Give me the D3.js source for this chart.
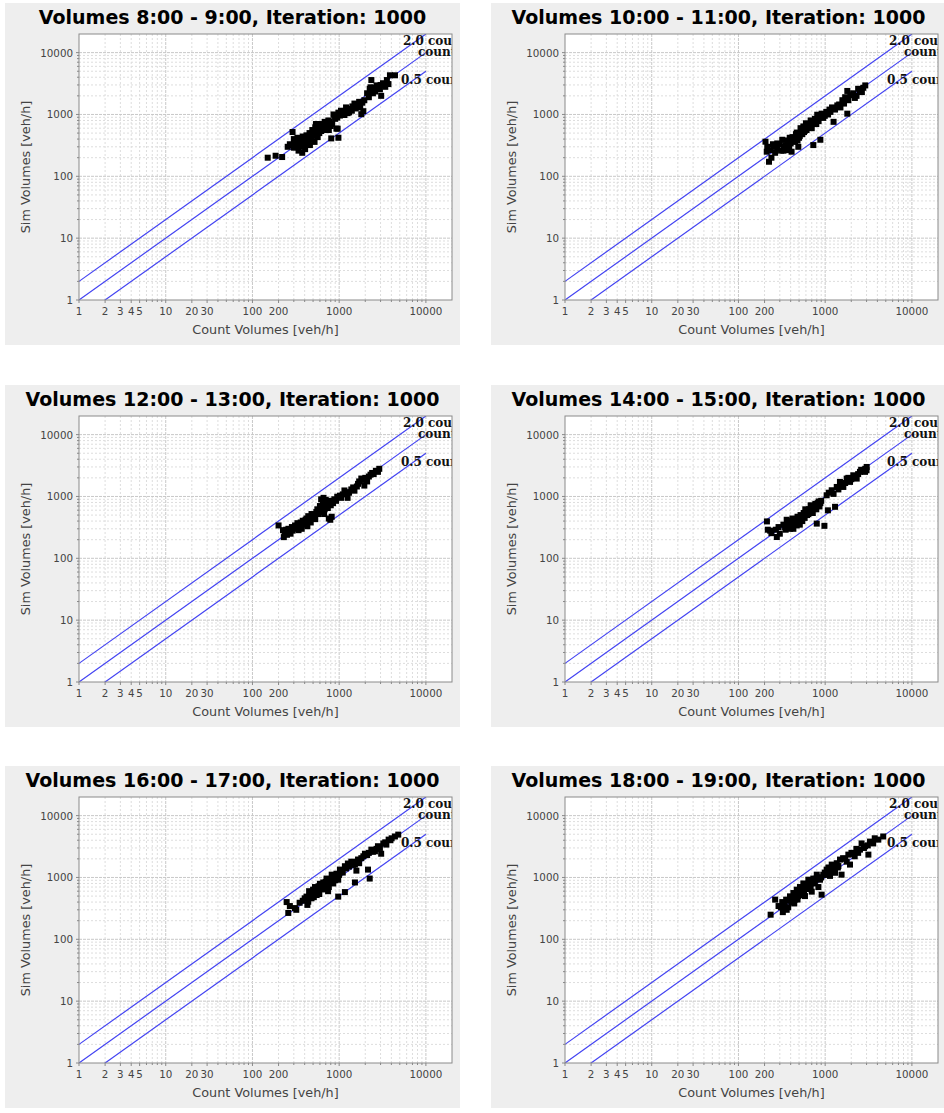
<!DOCTYPE html>
<html>
<head>
<meta charset="utf-8">
<script src="https://cdn.jsdelivr.net/npm/d3@7"></script>
<style>
  body { margin: 0; background: #fff; }
  svg { display: block; }
</style>
</head>
<body>
<svg id="chart" width="944" height="1113"></svg>
<script>
// one title per panel, read left-to-right, top-to-bottom
const titles = [
  "Volumes 8:00 - 9:00, Iteration: 1000",
  "Volumes 10:00 - 11:00, Iteration: 1000",
  "Volumes 12:00 - 13:00, Iteration: 1000",
  "Volumes 14:00 - 15:00, Iteration: 1000",
  "Volumes 16:00 - 17:00, Iteration: 1000",
  "Volumes 18:00 - 19:00, Iteration: 1000"
];

// [count volume, sim volume] in veh/h
const volumes0809 = [
  [150,200],[185,215],[220,205],[290,520],[300,400],[255,300],[270,330],[285,320],[300,290],[310,350],
  [320,360],[335,300],[340,260],[350,390],[360,330],[370,385],[375,240],[385,300],[395,420],[405,275],
  [410,350],[420,460],[430,380],[440,330],[455,500],[460,320],[470,460],[480,400],[490,560],[500,535],
  [510,450],[520,360],[530,620],[540,700],[550,520],[565,430],[580,600],[600,650],[610,630],[620,540],
  [640,700],[660,580],[680,760],[700,670],[720,640],[740,720],[760,560],[780,760],[800,650],[810,410],
  [830,700],[860,1000],[900,850],[930,590],[960,590],[980,420],[950,890],[980,1070],[1020,960],[1050,1150],
  [1100,1120],[1150,980],[1200,1300],[1250,1230],[1300,1080],[1350,1200],[1420,1350],[1500,1500],[1550,1250],[1600,1400],
  [1700,1600],[1750,1300],[1800,1010],[1850,1550],[1900,1130],[1950,1700],[2100,2200],[2200,1900],[2250,2600],[2300,2750],
  [2350,3600],[2450,2200],[2600,2350],[2700,2950],[2800,2600],[2950,2550],[3050,2000],[3200,3200],[3400,2800],[3550,3600],
  [3700,3100],[3850,4300],[4400,4300],[330,420],[380,440],[450,400],[560,700],[590,500],[700,560],[750,800],
  [880,950],[1250,1050],[1400,1150],[2500,2700],[3000,3000]
];
const volumes1011 = [
  [205,363],[212,250],[225,172],[215,300],[235,265],[240,200],[250,330],[255,300],[265,240],[280,280],
  [300,330],[310,260],[320,390],[335,300],[350,320],[360,265],[370,380],[385,300],[400,340],[410,250],
  [420,430],[435,380],[450,360],[460,480],[470,510],[490,300],[500,420],[510,450],[530,560],[545,480],
  [560,640],[580,540],[600,720],[620,620],[650,700],[680,800],[700,600],[730,760],[730,320],[760,850],
  [790,700],[810,990],[850,900],[880,390],[910,1030],[950,880],[990,950],[1030,1100],[1080,1000],[1120,1200],
  [1200,1300],[1250,760],[1300,1200],[1380,1400],[1450,1450],[1500,1300],[1580,1700],[1650,1500],[1700,1900],[1800,1030],
  [1800,2400],[1850,1700],[1950,2050],[2100,2200],[2200,1850],[2300,2000],[2400,2600],[2500,2350],[2650,2300],[2750,2700],
  [2900,2950],[380,350],[440,420],[520,600],[640,680],[700,780],[760,700],[840,780],[1150,1100],[1600,1600],
  [280,340],[330,260],[390,420],[480,380],[570,520],[610,560]
];
const volumes1213 = [
  [200,340],[225,285],[230,220],[235,260],[245,290],[250,240],[255,270],[285,320],[305,310],[330,370],
  [340,285],[380,405],[400,350],[420,440],[450,390],[500,470],[545,560],[590,600],[640,660],[670,520],
  [700,710],[760,440],[790,420],[820,470],[950,990],[1020,1030],[1100,1080],[1200,1170],[1250,950],[1380,1300],
  [1500,1240],[1650,1600],[1800,1950],[1950,1500],[2100,1750],[2200,2100],[2400,2400],[2650,2600],[2900,2800],[260,300],
  [275,250],[290,280],[310,340],[320,300],[350,330],[360,380],[370,300],[390,360],[410,420],[430,330],
  [440,480],[460,430],[470,380],[480,520],[520,500],[530,430],[560,620],[570,520],[600,700],[620,560],
  [650,750],[680,620],[720,800],[740,650],[780,850],[800,720],[850,780],[880,900],[920,850],[1050,950],
  [1150,1250],[1300,1150],[1450,1400],[1600,1450],[1700,1750],[1900,1850],[2000,2000],[2300,2250],[2500,2300],[2800,2500],
  [620,900],[660,950],[700,880]
];
const volumes1415 = [
  [213,395],[218,290],[232,280],[240,255],[277,221],[270,290],[290,320],[300,250],[345,320],[360,420],
  [375,370],[395,300],[420,440],[440,350],[460,385],[490,455],[520,500],[545,400],[565,540],[600,590],
  [620,500],[650,620],[700,680],[720,540],[760,710],[790,620],[820,780],[860,690],[800,364],[980,335],
  [1040,1045],[1075,597],[1190,1260],[1300,680],[1360,1425],[1480,1720],[1620,1425],[1770,1945],[1935,1720],[2110,2200],
  [2310,1945],[2520,2500],[2750,2650],[2880,2500],[3010,3000],[330,350],[350,290],[380,330],[400,400],[410,360],
  [430,300],[450,420],[470,340],[480,470],[500,400],[510,350],[530,450],[550,480],[580,450],[590,620],
  [610,560],[640,520],[670,600],[680,720],[700,600],[740,660],[770,760],[800,700],[840,830],[880,780],
  [900,850],[1100,1150],[1250,1100],[1420,1300],[1550,1550],[1700,1650],[1850,2000],[2000,1900],[2200,2050],[2400,2300],
  [2600,2700],[2900,2800],[3000,2650]
];
const volumes1617 = [
  [248,400],[270,345],[259,267],[309,320],[320,300],[350,390],[440,405],[420,490],[460,540],[500,635],
  [480,460],[526,700],[570,600],[600,790],[625,660],[655,830],[686,720],[715,960],[745,600],[780,920],
  [820,1110],[855,800],[893,1070],[930,1150],[975,920],[1020,1340],[975,490],[1164,580],[1060,1280],[1164,1520],
  [1260,1680],[1380,1800],[1520,1615],[1580,1290],[1650,1950],[1800,2050],[1982,2420],[2150,1340],[2250,960],[2350,2820],
  [2585,2650],[2800,3200],[3050,2420],[3230,3550],[3500,3400],[3720,4090],[4030,4300],[4395,4600],[4800,4930],[1520,830],
  [380,420],[400,460],[430,360],[450,600],[470,500],[490,560],[510,480],[540,620],[550,520],[580,720],
  [590,540],[610,700],[640,760],[660,640],[700,850],[730,780],[760,700],[800,880],[840,960],[870,1000],
  [900,900],[950,1050],[1000,1100],[1100,1200],[1200,1400],[1300,1500],[1450,1600],[1600,1800],[1700,1700],[1900,2200],
  [2100,2300],[2200,2500],[2450,2600],[2700,2900],[2950,3000],[3400,3700],[3900,4000]
];
const volumes1819 = [
  [235,250],[265,438],[290,345],[310,330],[325,275],[340,364],[355,438],[375,330],[393,495],[410,395],
  [430,560],[450,440],[470,635],[490,500],[512,700],[535,560],[560,800],[585,500],[610,700],[640,920],
  [668,765],[700,590],[730,960],[760,800],[800,1110],[835,700],[871,920],[910,527],[950,1110],[990,1200],
  [1040,1340],[1090,1450],[1137,1060],[1190,1615],[1240,1450],[1300,1190],[1360,1700],[1420,1530],[1483,1945],[1545,1110],
  [1610,2050],[1770,1800],[1850,2340],[1933,1615],[2010,2500],[2190,2200],[2290,2900],[2520,2820],[2630,3550],[2880,3200],
  [3150,2340],[3290,3800],[3580,3550],[3730,4300],[4100,4090],[4670,4600],[320,400],[360,300],[380,420],[420,480],
  [440,380],[460,520],[480,440],[500,600],[520,520],[550,650],[570,600],[600,780],[620,650],[650,840],
  [680,700],[720,880],[750,900],[780,950],[820,1000],[900,1000],[1000,1100],[1150,1300],[1250,1350],[1400,1450],
  [1700,2000],[2100,2400],[2400,2500],[2800,3000],[3100,3300]
];
const panelVolumes = [volumes0809, volumes1011, volumes1213, volumes1415, volumes1617, volumes1819];

const xTickLabels = [1, 2, 3, 4, 5, 10, 20, 30, 100, 200, 1000, 10000];
const yTickLabels = [1, 10, 100, 1000, 10000];
const ratios = [2, 1, 0.5];
const ratioLabels = ["2.0 count", "count", "0.5 count"];
const lineStart = 1, lineEnd = 10000;

// layout
const plotW = 373, plotH = 266;
const colLeft = [79, 565], rowTop = [34, 416, 797];
const labelDx = [-23, -8, -25], labelDy = [11, 22, 13];

const svg = d3.select("#chart");

const x = d3.scaleLog().domain([1, 20000]).range([0, plotW]);
const y = d3.scaleLog().domain([1, 20000]).range([plotH, 0]);

// every 1..9 multiple of each decade inside the domain
const gridValues = [];
for (let d = 1; d <= 10000; d *= 10) {
  for (let m = 1; m <= 9; m++) {
    if (m * d < 20000) gridValues.push(m * d);
  }
}
const isDecade = v => Math.abs(Math.log10(v) - Math.round(Math.log10(v))) < 1e-9;

panelVolumes.forEach((volumes, k) => {
  const left = colLeft[k % 2], top = rowTop[Math.floor(k / 2)];
  const g = svg.append("g").attr("transform", `translate(${left},${top})`);

  // panel background
  g.append("rect")
    .attr("x", -74).attr("y", -31)
    .attr("width", 455).attr("height", 342)
    .attr("fill", "#eeeeee");

  g.append("text")
    .attr("x", (455 / 2) - 74).attr("y", -10)
    .attr("text-anchor", "middle")
    .style("font-family", "'DejaVu Sans', sans-serif")
    .style("font-weight", "bold")
    .style("font-size", "19px")
    .attr("fill", "#000")
    .text(titles[k]);

  g.append("rect")
    .attr("width", plotW).attr("height", plotH)
    .attr("fill", "#fff");

  // grid
  g.append("g").selectAll("line")
    .data(gridValues.filter(v => v > 1))
    .join("line")
    .attr("x1", d => x(d)).attr("x2", d => x(d))
    .attr("y1", 0).attr("y2", plotH)
    .attr("stroke", d => isDecade(d) ? "#c8c8c8" : "#dddddd")
    .attr("stroke-width", 1)
    .attr("stroke-dasharray", d => isDecade(d) ? "3,1" : "2,2");

  g.append("g").selectAll("line")
    .data(gridValues.filter(v => v > 1))
    .join("line")
    .attr("y1", d => y(d)).attr("y2", d => y(d))
    .attr("x1", 0).attr("x2", plotW)
    .attr("stroke", d => isDecade(d) ? "#c8c8c8" : "#dddddd")
    .attr("stroke-width", 1)
    .attr("stroke-dasharray", d => isDecade(d) ? "3,1" : "2,2");

  const clipId = `clip-${k}`;
  g.append("clipPath").attr("id", clipId)
    .append("rect").attr("width", plotW).attr("height", plotH);

  const inner = g.append("g").attr("clip-path", `url(#${clipId})`);

  // reference lines sim = r * count
  inner.selectAll("line")
    .data(ratios)
    .join("line")
    .attr("x1", x(lineStart)).attr("y1", r => y(r * lineStart))
    .attr("x2", x(lineEnd)).attr("y2", r => y(r * lineEnd))
    .attr("stroke", "#4343f2")
    .attr("stroke-width", 1.2);

  inner.selectAll("rect")
    .data(volumes)
    .join("rect")
    .attr("x", d => x(d[0]) - 3)
    .attr("y", d => y(d[1]) - 3)
    .attr("width", 6).attr("height", 6)
    .attr("fill", "#000");

  // labels sit at the line ends and get cut by the plot edge, as in the original
  inner.selectAll("text")
    .data(ratios)
    .join("text")
    .attr("x", (r, i) => x(lineEnd) + labelDx[i])
    .attr("y", (r, i) => (i === 1 ? 0 : y(r * lineEnd)) + labelDy[i])
    .style("font-family", "'DejaVu Serif', serif")
    .style("font-weight", "bold")
    .style("font-size", "12px")
    .attr("fill", "#111")
    .text((r, i) => ratioLabels[i]);

  g.append("rect")
    .attr("width", plotW).attr("height", plotH)
    .attr("fill", "none")
    .attr("stroke", "#8a8a8a")
    .attr("stroke-width", 1);

  // ticks
  g.append("g").selectAll("line")
    .data(gridValues)
    .join("line")
    .attr("x1", d => x(d)).attr("x2", d => x(d))
    .attr("y1", plotH).attr("y2", d => plotH + (xTickLabels.includes(d) ? 3 : 2))
    .attr("stroke", "#888");
  g.append("g").selectAll("line")
    .data(gridValues)
    .join("line")
    .attr("y1", d => y(d)).attr("y2", d => y(d))
    .attr("x1", 0).attr("x2", d => -(yTickLabels.includes(d) ? 3 : 2))
    .attr("stroke", "#888");

  const tickFont = sel => sel
    .style("font-family", "'DejaVu Sans', sans-serif")
    .style("font-size", "10.3px")
    .attr("fill", "#444");

  g.append("g").selectAll("text")
    .data(xTickLabels)
    .join("text")
    .attr("x", d => x(d)).attr("y", plotH + 15)
    .attr("text-anchor", "middle")
    .call(tickFont)
    .text(d => d);

  g.append("g").selectAll("text")
    .data(yTickLabels)
    .join("text")
    .attr("x", -6).attr("y", d => y(d) + 4)
    .attr("text-anchor", "end")
    .call(tickFont)
    .text(d => d);

  g.append("text")
    .attr("x", plotW / 2).attr("y", plotH + 34)
    .attr("text-anchor", "middle")
    .style("font-family", "'DejaVu Sans', sans-serif")
    .style("font-size", "12.8px")
    .attr("fill", "#444")
    .text("Count Volumes [veh/h]");

  g.append("text")
    .attr("transform", `translate(-49,${plotH / 2}) rotate(-90)`)
    .attr("text-anchor", "middle")
    .style("font-family", "'DejaVu Sans', sans-serif")
    .style("font-size", "12.8px")
    .attr("fill", "#444")
    .text("Sim Volumes [veh/h]");
});
</script>
</body>
</html>
